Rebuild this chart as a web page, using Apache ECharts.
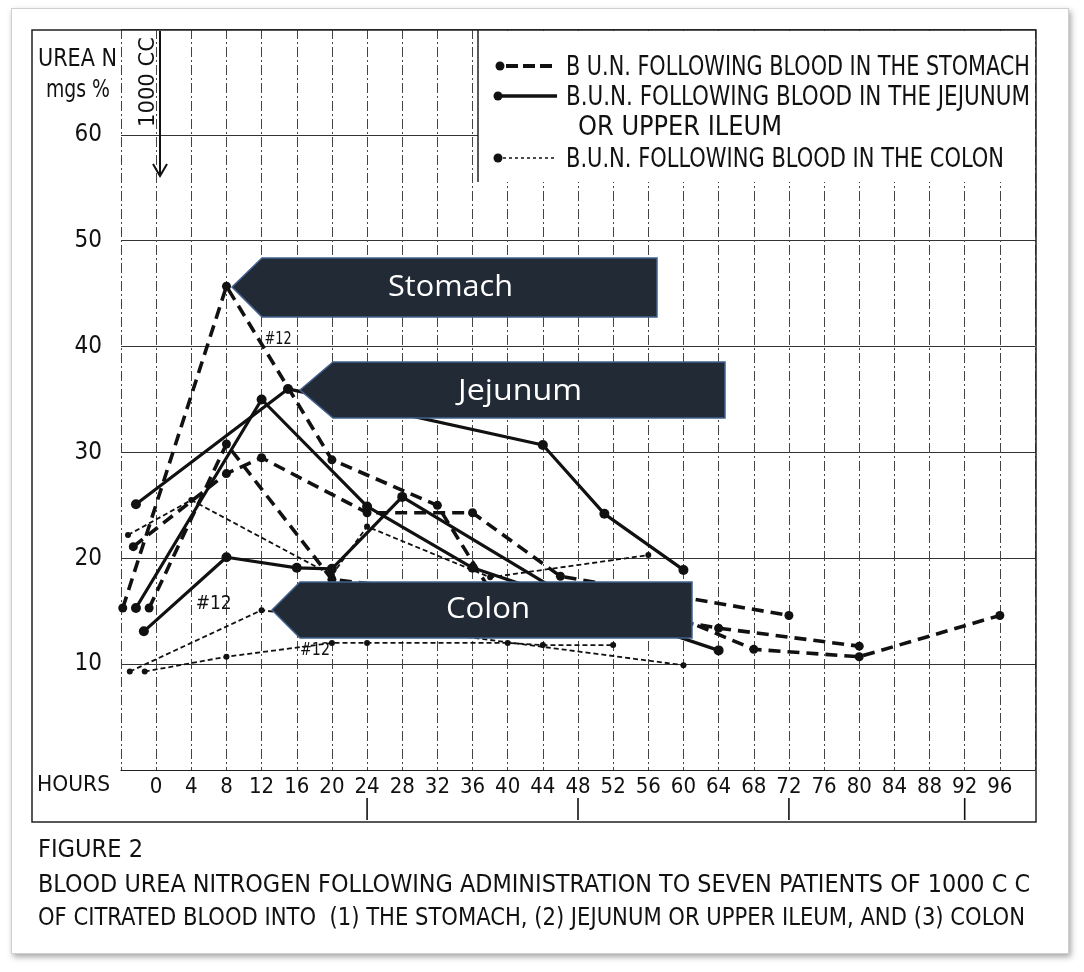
<!DOCTYPE html>
<html>
<head>
<meta charset="utf-8">
<script src="https://cdn.jsdelivr.net/npm/echarts@6/dist/echarts.min.js"></script>
<style>
html,body{margin:0;padding:0;background:#fff;}
#frame{position:absolute;left:11px;top:8px;width:1056px;height:944px;border:1px solid #cfcfcf;box-shadow:2px 3px 6px rgba(0,0,0,0.35);background:#fff;}
#c{position:absolute;left:0;top:0;width:1084px;height:972px;}
</style>
</head>
<body>
<div id="frame"></div>
<div id="c"></div>
<script>
// ---------------- data (hours, urea N mgs%) ----------------
const hourTicks = [0,4,8,12,16,20,24,28,32,36,40,44,48,52,56,60,64,68,72,76,80,84,88,92,96];
const yTicks = [10,20,30,40,50,60];
const dayMarks = [24,48,72,92];

const stomach1 = [[-3.8,15.3],[8,45.7],[20,29.3],[32,25.0],[38,17.0],[64,13.4],[80,11.7]];
const stomach2 = [[-2.6,21.1],[8,28.0],[12,29.5],[24,24.3],[36,24.3],[46,18.3],[72,14.6]];
const stomach3 = [[-0.8,15.3],[8,30.8],[20,18.0],[60,14.2],[68,11.4],[80,10.7],[96,14.6]];

const jejunum1 = [[-2.3,25.1],[15,36.0],[44,30.7],[51,24.2],[60,18.9]];
const jejunum2 = [[-2.3,15.3],[12,35.0],[24,24.9],[36,19.1],[64,11.3]];
const jejunum3 = [[-1.4,13.1],[8,20.1],[16,19.1],[20,19.0],[28,25.8],[46,16.8]];

const colon1 = [[-3.2,22.2],[4,25.5],[20,18.4],[24,23.0],[38,18.2],[56,20.3]];
const colon2 = [[-3.0,9.3],[12,15.1],[60,9.9]];
const colon3 = [[-1.3,9.3],[8,10.7],[20,12.0],[24,12.0],[40,12.0],[44,11.8],[52,11.8]];

const legendTexts = [
  'B U.N. FOLLOWING BLOOD IN THE STOMACH',
  'B.U.N. FOLLOWING BLOOD IN THE JEJUNUM',
  'OR UPPER ILEUM',
  'B.U.N. FOLLOWING BLOOD IN THE COLON'
];
const captionTexts = [
  'FIGURE 2',
  'BLOOD UREA NITROGEN FOLLOWING ADMINISTRATION TO SEVEN PATIENTS OF 1000 C C',
  'OF CITRATED BLOOD INTO  (1) THE STOMACH, (2) JEJUNUM OR UPPER ILEUM, AND (3) COLON'
];
const calloutTexts = ['Stomach','Jejunum','Colon'];

// ---------------- fonts ----------------
const mctx = document.createElement('canvas').getContext('2d');
function has(name){
  const s='mmmmmiiiiWWW0123';
  mctx.font='60px monospace'; const a=mctx.measureText(s).width;
  mctx.font='60px "'+name+'", monospace'; const b=mctx.measureText(s).width;
  return Math.abs(a-b)>0.5;
}
const narrowName = ['Liberation Sans Narrow','DejaVu Sans Condensed','Roboto Condensed'].find(has);
const FF = narrowName ? '"'+narrowName+'", "Liberation Sans", sans-serif' : '"Liberation Sans", sans-serif';
const CF = '"Open Sans", "Noto Sans", sans-serif';
function tw(text,size,fam){ mctx.font = size+'px '+fam; return mctx.measureText(text).width; }
function fitText(text,x0,x1,cy,size,opts){
  opts = opts||{};
  const fam = opts.family||FF;
  const w = tw(text,size,fam);
  return {type:'text', x:x0, y:cy, scaleX:(x1-x0)/w, z:opts.z||50,
    style:{text:text, fontSize:size, fontFamily:fam, fill:opts.fill||'#111',
      verticalAlign:'middle', align:'left'}};
}

// ---------------- chart ----------------
const chart = echarts.init(document.getElementById('c'));
const INK = '#111';
function mk(data, kind){
  const s = {type:'line', data:data, showAllSymbol:true, symbol:'circle', z:3,
    itemStyle:{color:INK}, emphasis:{disabled:true}};
  if(kind==='stomach'){ s.name='stomach'; s.symbolSize=9; s.lineStyle={color:INK,width:3.6,type:[12,7]}; }
  if(kind==='jejunum'){ s.name='jejunum'; s.symbolSize=10; s.lineStyle={color:INK,width:3.2,type:'solid'}; }
  if(kind==='colon'){ s.name='colon'; s.symbolSize=6; s.lineStyle={color:INK,width:1.8,type:[5,3]}; }
  return s;
}
const series = [
  mk(stomach1,'stomach'), mk(stomach2,'stomach'), mk(stomach3,'stomach'),
  mk(jejunum1,'jejunum'), mk(jejunum2,'jejunum'), mk(jejunum3,'jejunum'),
  mk(colon1,'colon'), mk(colon2,'colon'), mk(colon3,'colon')
];

chart.setOption({
  animation:false,
  grid:{left:121, right:49, top:29, bottom:202},
  xAxis:{type:'value', min:-4, max:100, interval:4,
    axisLine:{show:true, lineStyle:{color:'#222', width:1.2}},
    axisTick:{show:false},
    axisLabel:{margin:6, fontSize:22, color:INK, fontFamily:FF,
      formatter:function(v){ return hourTicks.indexOf(v)>=0 ? String(v) : ''; }},
    splitLine:{show:true, lineStyle:{color:'#444', width:1, type:[10,3,2,3]}}
  },
  yAxis:{type:'value', min:0, max:70, interval:10,
    axisLine:{show:false}, axisTick:{show:false},
    axisLabel:{margin:19, fontSize:24, color:INK, fontFamily:FF,
      formatter:function(v){ return yTicks.indexOf(v)>=0 ? String(v) : ''; }},
    splitLine:{show:true, lineStyle:{color:'#333', width:1.1}}
  },
  series:series
});

// ---------------- overlays ----------------
const P = function(x,y){ return chart.convertToPixel({gridIndex:0},[x,y]); };
const g = [];
// chart frame
g.push({type:'rect', z:40, shape:{x:32,y:30,width:1004,height:792}, style:{fill:null, stroke:'#222', lineWidth:1.5}});
// legend box
g.push({type:'rect', z:45, shape:{x:478,y:31,width:557,height:151}, style:{fill:'#fff', stroke:null}});
g.push({type:'line', z:46, shape:{x1:478,y1:30,x2:478,y2:182}, style:{stroke:'#222', lineWidth:1.5}});
// legend icons
g.push({type:'circle', z:50, shape:{cx:500,cy:66,r:4.5}, style:{fill:INK}});
g.push({type:'line', z:50, shape:{x1:506,y1:66,x2:557,y2:66}, style:{stroke:INK, lineWidth:4, lineDash:[12,5]}});
g.push({type:'circle', z:50, shape:{cx:498,cy:96,r:4.5}, style:{fill:INK}});
g.push({type:'line', z:50, shape:{x1:502,y1:96,x2:557,y2:96}, style:{stroke:INK, lineWidth:3.5}});
g.push({type:'circle', z:50, shape:{cx:498,cy:158,r:4.5}, style:{fill:INK}});
g.push({type:'line', z:50, shape:{x1:503,y1:158,x2:557,y2:158}, style:{stroke:INK, lineWidth:1.5, lineDash:[3,3]}});
// legend texts
g.push(fitText(legendTexts[0],566,1030,68,27));
g.push(fitText(legendTexts[1],566,1030,98,27));
g.push(fitText(legendTexts[2],578,782,128,27));
g.push(fitText(legendTexts[3],566,1004,160,27));
// axis titles
g.push(fitText('UREA N',38,117,60,24));
g.push(fitText('mgs %',46,110,91,24));
g.push(fitText('HOURS',37,110,785,22));
// 1000 CC arrow
g.push({type:'line', z:50, shape:{x1:160,y1:31,x2:160,y2:175}, style:{stroke:INK, lineWidth:2}});
g.push({type:'polyline', z:50, shape:{points:[[153,164],[160,176],[167,164]]}, style:{stroke:INK, lineWidth:2, fill:null}});
(function(){
  const t='1000 CC', size=22, w=tw(t,size,FF);
  g.push({type:'text', z:50, x:148, y:127, rotation:Math.PI/2, scaleX:90/w,
    style:{text:t, fontSize:size, fontFamily:FF, fill:INK, align:'left', verticalAlign:'middle'}});
})();
// day tick marks
dayMarks.forEach(function(h){
  const px = P(h,0)[0];
  g.push({type:'line', z:50, shape:{x1:px,y1:798,x2:px,y2:820}, style:{stroke:INK, lineWidth:1.6}});
});
// #12 annotations
(function(){
  const a = P(12,40.5); g.push(fitText('#12',a[0]+3,a[0]+30,a[1]-2,17));
  const b = P(4.5,15.9); g.push(fitText('#12',b[0],b[0]+36,b[1]+2,19));
  const c = P(20,12.0); g.push(fitText('#12',c[0]-32,c[0]-2,c[1]+7,18));
})();
// captions
g.push(fitText(captionTexts[0],38,143,851,24));
g.push(fitText(captionTexts[1],38,1030,885,25));
g.push(fitText(captionTexts[2],38,1025,918,25));
// callout boxes
const boxes = [
  {pts:[[232,287],[262,258],[657,258],[657,317],[262,317]], tx:[388,513], ty:288},
  {pts:[[300,390],[333,362],[725,362],[725,418],[333,418]], tx:[458,582], ty:392},
  {pts:[[272,610],[300,582],[692,582],[692,638],[300,638]], tx:[446,530], ty:610}
];
boxes.forEach(function(b,i){
  g.push({type:'polygon', z:60, shape:{points:b.pts}, style:{fill:'#222a35', stroke:'#41618f', lineWidth:1.5}});
  g.push(fitText(calloutTexts[i], b.tx[0], b.tx[1], b.ty, 29, {family:CF, fill:'#ffffff', z:61}));
});

chart.setOption({graphic:{elements:g}});
</script>
</body>
</html>
